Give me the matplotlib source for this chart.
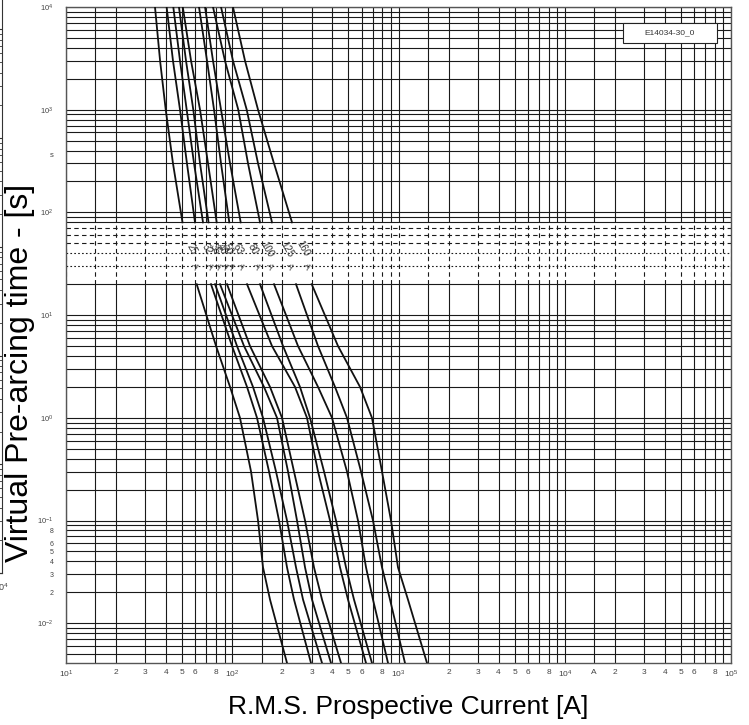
import matplotlib.pyplot as plt
from matplotlib.patches import Rectangle
from matplotlib.ticker import FixedLocator, NullLocator

plt.rcParams['font.family'] = ['Liberation Sans', 'DejaVu Sans']
plt.rcParams['mathtext.default'] = 'regular'

t_upper = [10000, 3000, 1000, 300, 80]
t_lower = [20, 5, 2, 1, 0.3, 0.1, 0.035, 0.017, 0.0041]

ratings = ['25', '32', '35', '40', '50', '63', '80', '100', '125', '160']

# prospective current (A) of each curve above the label band
i_upper = [
    [34.3, 36.8, 39.8, 44.0, 50.2],
    [40.3, 44.0, 48.5, 53.4, 59.7],
    [44.2, 48.5, 53.2, 58.9, 66.7],
    [47.8, 52.7, 58.3, 64.0, 72.0],
    [50.4, 56.5, 64.0, 71.5, 80.6],
    [63.1, 70.5, 77.7, 85.6, 96.0],
    [68.6, 76.6, 85.6, 97.0, 112.4],
    [76.6, 90.4, 108.7, 124.4, 146.9],
    [85.6, 101.0, 122.2, 142.9, 173.4],
    [101.0, 119.3, 142.9, 178.3, 228.8],
]

# prospective current (A) of each curve below the label band
i_lower = [
    [61.1, 79.9, 97.0, 111.3, 129.7, 142.9, 153.1, 168.7, 213.5],
    [74.5, 99.7, 122.7, 140.9, 166.4, 191.1, 213.5, 235.2, 297.6],
    [78.8, 106.8, 133.3, 153.1, 183.3, 213.5, 241.8, 266.5, 346.7],
    [84.4, 117.7, 155.2, 185.9, 216.5, 245.2, 274.0, 301.8, 392.6],
    [93.0, 127.9, 168.7, 199.2, 235.2, 274.0, 310.2, 346.7, 451.0],
    [122.7, 173.4, 238.5, 281.6, 328.0, 387.3, 444.8, 496.8, 637.7],
    [146.9, 202.0, 255.5, 293.6, 356.5, 420.9, 483.3, 539.9, 692.6],
    [178.3, 248.6, 328.0, 398.1, 490.0, 570.7, 637.7, 702.3, 864.9],
    [241.8, 328.0, 415.0, 490.0, 595.0, 702.3, 795.6, 888.9, 1094],
    [300.6, 432.6, 586.8, 692.6, 795.6, 901.3, 993, 1140, 1484],
]

label_current = [57.0, 70.2, 78.8, 86.4, 94.3, 108.7, 133.9, 161.1, 212.6, 267.6]

x_min, x_max = 10, 1e5
y_min, y_max = 0.0041, 1e4
band_lo, band_hi = 20, 80

x_grid = [m * 10 ** e for e in range(1, 5) for m in (1, 1.5, 2, 3, 4, 5, 6, 7, 8, 9)] + [1e5]
y_grid = [m * 10 ** e for e in range(-3, 4) for m in range(1, 10)] + [1e4]
y_grid = [v for v in y_grid if y_min < v <= y_max]

x_tick_vals = [10, 20, 30, 40, 50, 60, 80, 100, 200, 300, 400, 500, 600, 800, 1000,
               2000, 3000, 4000, 5000, 6000, 8000, 10000, 15000, 20000, 30000,
               40000, 50000, 60000, 80000, 100000]
x_tick_text = ['$10^1$', '2', '3', '4', '5', '6', '8', '$10^2$', '2', '3', '4', '5', '6', '8',
               '$10^3$', '2', '3', '4', '5', '6', '8', '$10^4$', 'A', '2', '3', '4', '5', '6',
               '8', '$10^5$']
y_tick_vals = [10000, 1000, 370, 100, 10, 1, 0.1, 0.08, 0.06, 0.05, 0.04, 0.03, 0.02, 0.01]
y_tick_text = ['$10^4$', '$10^3$', 's', '$10^2$', '$10^1$', '$10^0$', '$10^{-1}$', '8', '6', '5',
               '4', '3', '2', '$10^{-2}$']

fig = plt.figure(figsize=(7.49, 7.25), dpi=100)
ax = fig.add_axes([66 / 749, 62 / 725, 665 / 749, 656 / 725])
ax.set_xscale('log')
ax.set_yscale('log')
ax.set_xlim(x_min, x_max)
ax.set_ylim(y_min, y_max)

grid_kw = dict(color='#1a1a1a', linewidth=0.8, zorder=1)
for y in y_grid:
    if band_lo < y < band_hi:
        ls = (0, (4, 3)) if y >= 50 else (0, (1.5, 2))
        ax.hlines(y, x_min, x_max, linestyles=[ls], **grid_kw)
    else:
        ax.hlines(y, x_min, x_max, **grid_kw)
ax.vlines(x_grid, y_min, band_lo, **grid_kw)
ax.vlines(x_grid, band_hi, y_max, **grid_kw)
ax.vlines(x_grid, band_lo, band_hi, linestyles=[(0, (4, 3))], **grid_kw)

for up, lo in zip(i_upper, i_lower):
    ax.plot(up, t_upper, color='#111111', linewidth=1.3, zorder=3)
    ax.plot(lo, t_lower, color='#111111', linewidth=1.3, zorder=3)

for cur, name in zip(label_current, ratings):
    ax.text(cur, 44, name, rotation=-60, fontsize=7, color='#333333',
            ha='center', va='center', zorder=4)
    ax.text(cur * 1.04, 30, 'A', rotation=-60, fontsize=6.5, color='#333333',
            ha='center', va='center', zorder=4)

ax.xaxis.set_major_locator(FixedLocator(x_tick_vals))
ax.xaxis.set_minor_locator(NullLocator())
ax.set_xticklabels(x_tick_text)
ax.yaxis.set_major_locator(FixedLocator(y_tick_vals))
ax.yaxis.set_minor_locator(NullLocator())
ax.set_yticklabels(y_tick_text)
ax.tick_params(axis='x', length=0, labelsize=6, labelcolor='#444444', pad=4)
ax.tick_params(axis='y', length=0, labelsize=5.5, labelcolor='#444444', pad=9)
for lbl in ax.get_yticklabels()[7:13]:
    lbl.set_fontsize(5)
for sp in ax.spines.values():
    sp.set_color('#555555')
    sp.set_linewidth(1.0)

ax.add_patch(Rectangle((0.837, 0.9446), 0.1415, 0.0314, transform=ax.transAxes,
                       facecolor='white', edgecolor='#222222', linewidth=0.8, zorder=5))
ax.text(0.9078, 0.9603, 'E14034-30_0', transform=ax.transAxes, fontsize=6,
        color='#333333', ha='center', va='center', zorder=6)

# edge of the neighbouring chart that was cut off on the left
side = fig.add_axes([-0.2, 152 / 725, 0.2027, 0.9])
side.set_yscale('log')
side.set_ylim(1e-2, 1e4)
side.spines['left'].set_visible(False)
side.spines['top'].set_visible(False)
side.spines['right'].set_color('#333333')
side.spines['bottom'].set_color('#333333')
side.set_xticks([])
side.yaxis.tick_right()
side.tick_params(axis='y', which='both', direction='in', length=3, labelright=False,
                 color='#333333')
fig.text(1 / 749, 1 - 587 / 725, '$10^4$', fontsize=6.5, color='#444444',
         ha='center', va='center')

fig.text(20 / 749, 1 - 373 / 725, 'Virtual Pre-arcing time - [s]', rotation=90,
         fontsize=23, ha='center', va='center')
fig.text(408 / 749, 1 - 707 / 725, 'R.M.S. Prospective Current [A]', fontsize=19,
         ha='center', va='center')

fig.savefig('out.png', dpi=100)
